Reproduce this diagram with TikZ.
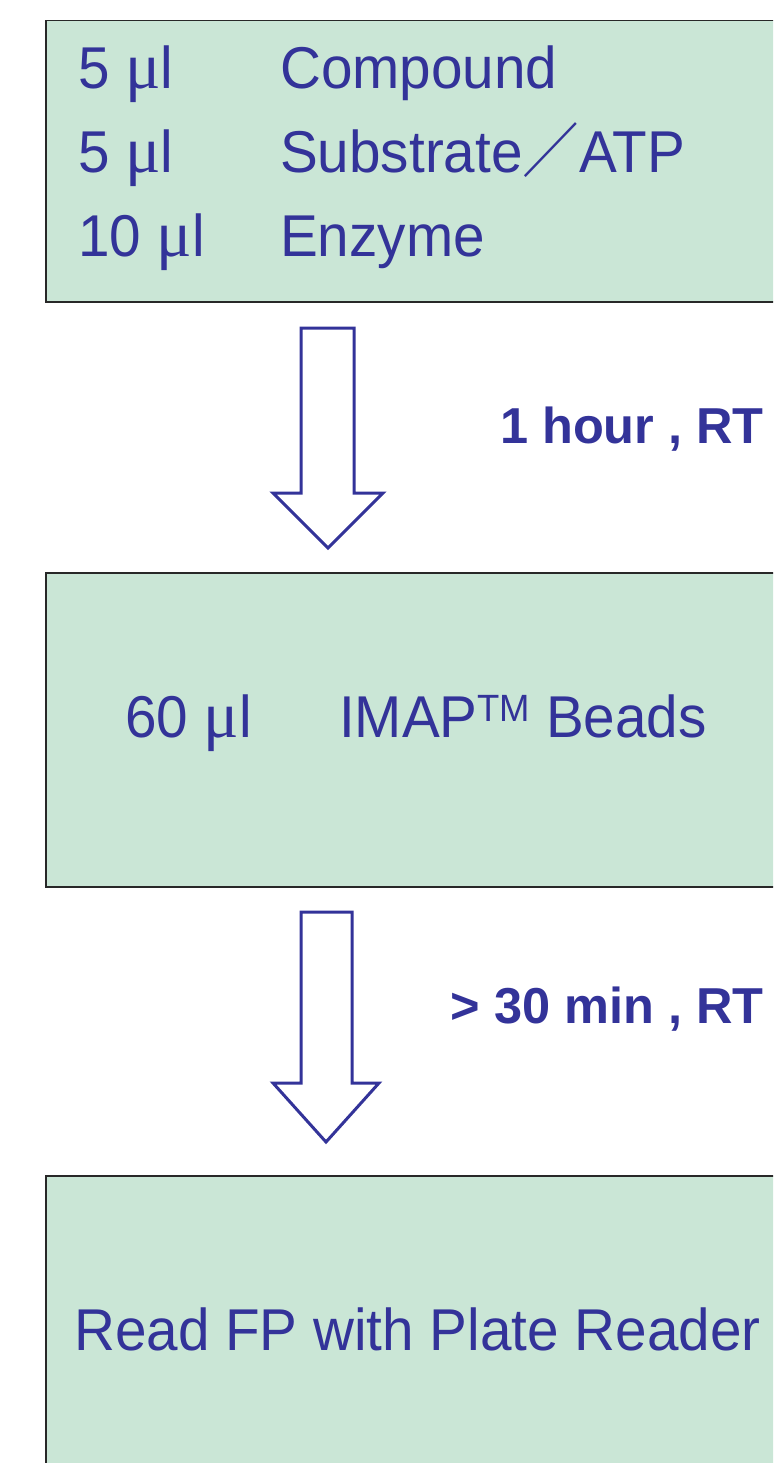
\documentclass[tikz,border=0pt]{standalone}
\usepackage{fontspec}
\setmainfont{Liberation Sans}[FakeStretch=0.96]
\newfontfamily\labfont{Liberation Sans}
\newfontfamily\mufont{Liberation Serif}[Scale=1.12]
\newfontfamily\cjkfont{Noto Sans CJK JP}[FakeStretch=0.96]
\definecolor{boxfill}{RGB}{202,230,214}
\definecolor{txtblue}{RGB}{51,51,153}
\definecolor{edge}{RGB}{40,40,40}
\newcommand{\mul}{{\mufont μ}l}
\tikzset{
  stepbox/.style={draw=edge, line width=1.5pt, fill=boxfill, anchor=north west, inner sep=0pt},
  bodytext/.style={text=txtblue, anchor=base west, inner sep=0pt, font=\fontsize{59}{70}\selectfont},
  labeltext/.style={text=txtblue, anchor=base east, inner sep=0pt, font=\labfont\bfseries\fontsize{50.5}{60}\selectfont},
  blockarrow/.style={draw=txtblue, line width=3pt, fill=white, miter limit=10}
}
\begin{document}
\begin{tikzpicture}[x=1pt,y=-1pt]
\useasboundingbox (0,0) rectangle (773,1463);
\clip (0,0) rectangle (773,1463);
\fill[white] (0,0) rectangle (773,1463);
% boxes
\node[stepbox, minimum width=760pt, minimum height=281pt] (box1) at (45,20) {};
\node[stepbox, minimum width=760pt, minimum height=314pt] (box2) at (45,572) {};
\node[stepbox, minimum width=760pt, minimum height=320pt] (box3) at (45,1175) {};
% box 1 text
\node[bodytext] (q1) at (78,89) {5 \mul};
\node[bodytext] (r1) at (280,89) {Compound};
\node[bodytext] (q2) at (78,173) {5 \mul};
\node[bodytext] (r2) at (280,173) {Substrate{\cjkfont ／}ATP};
\node[bodytext] (q3) at (78,257) {10 \mul};
\node[bodytext] (r3) at (280,257) {Enzyme};
% box 2 text
\node[bodytext] (q4) at (125,737) {60 \mul};
\node[bodytext] (r4) at (339,737) {IMAP\raisebox{16pt}{\fontsize{38}{44}\selectfont TM} Beads};
% box 3 text
\node[bodytext] (r5) at (74,1350) {Read FP with Plate Reader};
% arrows
\draw[blockarrow] (301,328) -- (354,328) -- (354,493) -- (383,493) -- (328,548) -- (273,493) -- (301,493) -- cycle;
\draw[blockarrow] (301,912) -- (352,912) -- (352,1083) -- (379,1083) -- (326,1142) -- (273,1083) -- (301,1083) -- cycle;
% labels
\node[labeltext] (l1) at (764,443) {1 hour , RT};
\node[labeltext] (l2) at (764,1023) {> 30 min , RT};
\end{tikzpicture}
\end{document}
